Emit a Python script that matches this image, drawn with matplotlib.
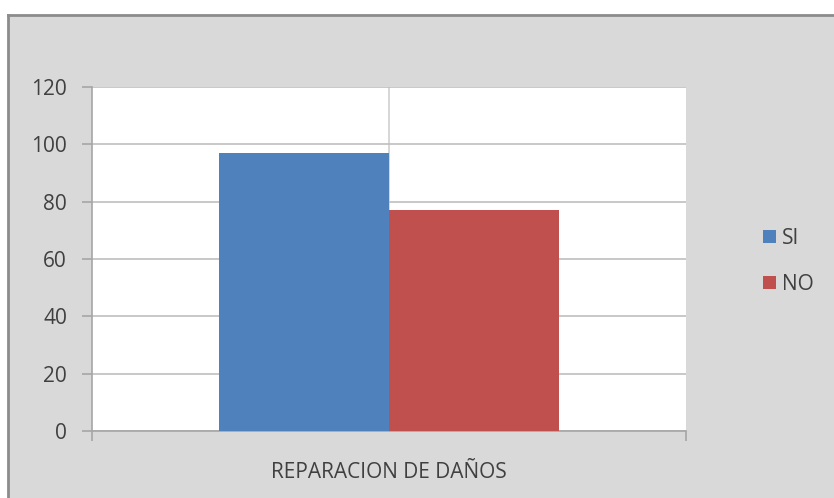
import matplotlib.pyplot as plt
from matplotlib.patches import Rectangle, Patch

# --- data ---
CATEGORY = "REPARACION DE DAÑOS"
SERIES = ["SI", "NO"]
VALUES = [97, 77]
COLORS = ["#4F81BD", "#C0504D"]
YTICKS = [0, 20, 40, 60, 80, 100, 120]

plt.rcParams["font.family"] = ["Open Sans", "DejaVu Sans"]

W, H = 834, 498
fig = plt.figure(figsize=(W / 100, H / 100), dpi=100)
fig.patch.set_facecolor("white")

# chart area (gray frame, border on top/left)
frame = Rectangle((8 / W, 0), 1 - 8 / W, 1 - 15 / H, transform=fig.transFigure,
                  facecolor="#D9D9D9", edgecolor="none", zorder=-2)
fig.patches.append(frame)
fig.add_artist(plt.Line2D([8 / W, 1], [1 - 15 / H, 1 - 15 / H], transform=fig.transFigure,
                          color="#8C8C8C", lw=2, zorder=-1))
fig.add_artist(plt.Line2D([8 / W, 8 / W], [0, 1 - 15 / H], transform=fig.transFigure,
                          color="#8C8C8C", lw=2, zorder=-1))

# plot area: x 92..686, y 87..431
ax = fig.add_axes([92 / W, 1 - 431 / H, (686 - 92) / W, (431 - 87) / H])
ax.set_facecolor("white")

n = len(SERIES)
width = 170 / 594 * 2  # bar width in data units (axis spans 0..2)
for i, (s, v, c) in enumerate(zip(SERIES, VALUES, COLORS)):
    x = 1 + (i - (n - 1) / 2) * width
    ax.bar(x, v, width=width, color=c, zorder=3, label=s)

ax.set_xlim(0, 2)
ax.set_ylim(0, 120)
ax.set_yticks(YTICKS)
ax.yaxis.grid(True, color="#BFBFBF", lw=1.2, zorder=1)
ax.axvline(1, color="#D0D0D0", lw=1.2, zorder=1)

for side in ["top", "right"]:
    ax.spines[side].set_visible(False)
ax.spines["left"].set_color("#A6A6A6")
ax.spines["bottom"].set_color("#A6A6A6")
ax.spines["left"].set_linewidth(1.2)
ax.spines["bottom"].set_linewidth(1.2)

ax.tick_params(axis="y", length=7, width=1.2, color="#A6A6A6", labelsize=15,
               labelcolor="#404040", pad=11)
ax.set_xticks([0, 2])
ax.set_xticklabels(["", ""])
ax.tick_params(axis="x", length=7, width=1.2, color="#A6A6A6")

fig.text((92 + 686) / 2 / W, 1 - 472 / H, CATEGORY, ha="center", va="center",
         fontsize=15, color="#404040")

handles = [Patch(facecolor=c, edgecolor="none", label=s) for s, c in zip(SERIES, COLORS)]
fig.legend(handles=handles, loc="center left", bbox_to_anchor=(763 / W, 1 - 261 / H),
           frameon=False, fontsize=15, handlelength=0.6, handleheight=0.6,
           handletextpad=0.3, labelspacing=1.2, borderpad=0, borderaxespad=0,
           labelcolor="#404040")

fig.savefig("out.png", dpi=100)
